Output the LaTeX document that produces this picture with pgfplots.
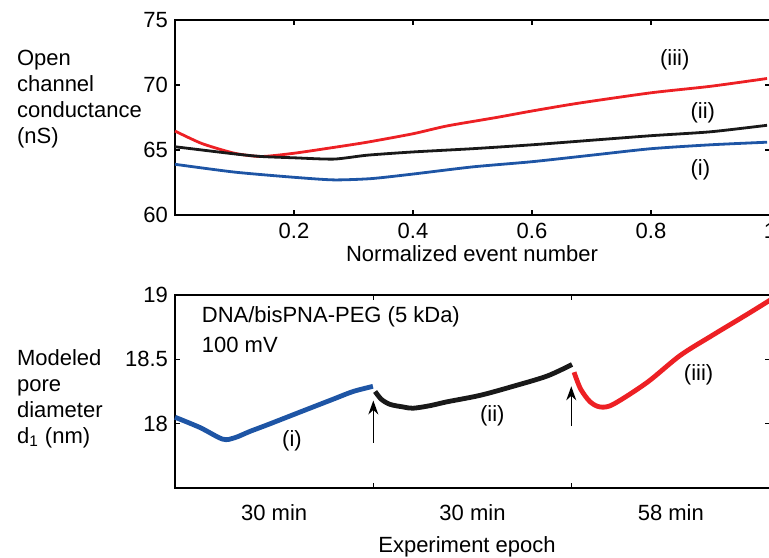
\documentclass[border=0pt]{standalone}
\usepackage{fontspec}
\setmainfont{Liberation Sans}
\usepackage{pgfplots}
\pgfplotsset{compat=1.18}
\usetikzlibrary{arrows.meta}
\definecolor{cred}{RGB}{237,32,36}
\definecolor{cblue}{RGB}{30,85,165}
\definecolor{cblack}{RGB}{25,25,25}

\pgfplotsset{
  panel/.style={
    scale only axis,
    anchor=south west,
    width=297.5pt,
    tick align=inside,
    major tick length=2.5pt,
    axis line style={line width=0.7pt},
    every tick/.style={line width=0.6pt, black},
    tick label style={font=\fontsize{11}{13}\selectfont},
    /pgf/number format/assume math mode=true,
    clip=false,
  }
}

\begin{document}
\begin{tikzpicture}[font=\fontsize{11}{13}\selectfont]
\useasboundingbox (0,0) rectangle (384.5pt,278.5pt);

% top: open channel conductance
\begin{axis}[panel,
  at={(87.5pt,171pt)}, height=97.5pt,
  xmin=0, xmax=1, ymin=60, ymax=75,
  xtick={0.2,0.4,0.6,0.8,1},
  ytick={60,65,70,75},
  xticklabel style={anchor=base, yshift=-12pt},
]
\addplot[cred, line width=1.4pt, smooth, tension=0.4] coordinates {
  (0,66.46) (0.045,65.5) (0.1,64.75) (0.145,64.5) (0.2,64.75) (0.267,65.2)
  (0.323,65.6) (0.4,66.25) (0.457,66.85) (0.54,67.5)
  (0.6,68.0) (0.678,68.6) (0.8,69.4) (0.9,69.9) (0.995,70.5)
};
\addplot[cblack, line width=1.4pt, smooth, tension=0.4] coordinates {
  (0,65.25) (0.1,64.7) (0.145,64.5) (0.2,64.4) (0.267,64.3) (0.323,64.6)
  (0.4,64.85) (0.5,65.1) (0.6,65.4) (0.7,65.75) (0.8,66.1) (0.9,66.4) (0.995,66.9)
};
\addplot[cblue, line width=1.4pt, smooth, tension=0.4] coordinates {
  (0,63.9) (0.1,63.3) (0.2,62.9) (0.267,62.7) (0.33,62.8)
  (0.4,63.15) (0.5,63.7) (0.6,64.1) (0.7,64.6) (0.8,65.1) (0.9,65.4) (0.995,65.6)
};
\node at (axis cs:0.84,71.9) {(iii)};
\node at (axis cs:0.887,67.85) {(ii)};
\node at (axis cs:0.883,63.5) {(i)};
\end{axis}

% bottom: modeled pore diameter
\begin{axis}[panel,
  at={(87.5pt,34.5pt)}, height=96.5pt,
  xmin=0, xmax=3, ymin=17.5, ymax=19,
  xtick={1,2}, xticklabels={},
  extra x ticks={0.5,1.5,2.5},
  extra x tick labels={30 min,30 min,58 min},
  extra x tick style={major tick length=0pt,
    xticklabel style={anchor=base, yshift=-16pt}},
  ytick={18,18.5,19},
]
\addplot[cblue, line width=2.4pt, smooth, tension=0.5] coordinates {
  (0,18.05) (0.126,17.97) (0.24,17.88) (0.3,17.89) (0.378,17.94)
  (0.464,17.99) (0.63,18.09) (0.797,18.19) (0.898,18.25) (0.998,18.29)
};
\addplot[cblack, line width=2.4pt, smooth, tension=0.5] coordinates {
  (1.009,18.25) (1.04,18.19) (1.084,18.15) (1.15,18.13) (1.2,18.12)
  (1.286,18.14) (1.372,18.17) (1.538,18.22) (1.704,18.29) (1.876,18.37)
  (2.002,18.46)
};
\addplot[cred, line width=2.4pt, smooth, tension=0.5] coordinates {
  (2.012,18.4) (2.045,18.27) (2.093,18.17) (2.143,18.13) (2.209,18.15)
  (2.38,18.32) (2.547,18.53) (2.713,18.69) (2.885,18.85) (3.0,18.96)
};
\draw[-{Stealth[length=7pt,width=5pt]}, line width=0.6pt]
  (axis cs:1.0,17.85) -- (axis cs:1.0,18.18);
\draw[-{Stealth[length=7pt,width=5pt]}, line width=0.6pt]
  (axis cs:1.998,17.98) -- (axis cs:1.998,18.29);
\node[anchor=west] at (axis cs:0.1,18.83) {DNA/bisPNA-PEG (5 kDa)};
\node[anchor=west] at (axis cs:0.1,18.615) {100 mV};
\node at (axis cs:0.59,17.87) {(i)};
\node at (axis cs:1.6,18.06) {(ii)};
\node at (axis cs:2.64,18.38) {(iii)};
\end{axis}

\node[anchor=west, align=left] at (5pt,229pt)
  {Open\\channel\\conductance\\(nS)};
\node[anchor=west, align=left] at (5pt,79pt)
  {Modeled\\pore\\diameter\\d\textsubscript{1} (nm)};
\node[anchor=base] at (236pt,147.5pt) {Normalized event number};
\node[anchor=base] at (233.5pt,2.5pt) {Experiment epoch};
\end{tikzpicture}
\end{document}
